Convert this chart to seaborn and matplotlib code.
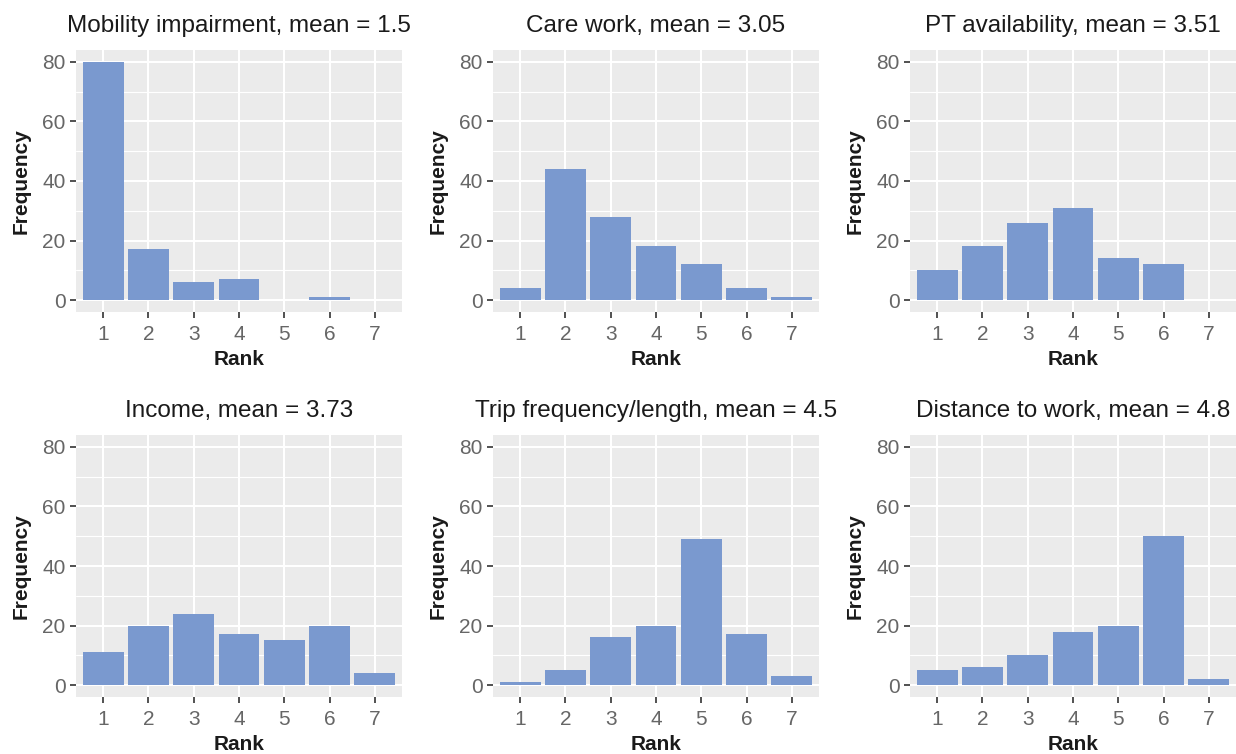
import matplotlib
matplotlib.use("Agg")
import matplotlib.pyplot as plt
import seaborn as sns
import pandas as pd
import numpy as np
from matplotlib.ticker import MultipleLocator

ranks = [1, 2, 3, 4, 5, 6, 7]
titles = ["Mobility impairment, mean = 1.5", "Care work, mean = 3.05",
          "PT availability, mean = 3.51", "Income, mean = 3.73",
          "Trip frequency/length, mean = 4.5", "Distance to work, mean = 4.8"]
mobility = [80, 17, 6, 7, 0, 1, 0]
care_work = [4, 44, 28, 18, 12, 4, 1]
pt_avail = [10, 18, 26, 31, 14, 12, 0]
income = [11, 20, 24, 17, 15, 20, 4]
trip_freq = [1, 5, 16, 20, 49, 17, 3]
distance = [5, 6, 10, 18, 20, 50, 2]
series = [mobility, care_work, pt_avail, income, trip_freq, distance]
y_ticks = [0, 20, 40, 60, 80]

sns.set_theme(style="darkgrid")
plt.rcParams['font.family'] = ['Liberation Sans', 'DejaVu Sans']

W, H = 1236, 754
fig = plt.figure(figsize=(W / 100, H / 100), dpi=100)

lefts = [76, 493, 910]
width = 326
tops = [50, 435]
height = 262

bar_color = "#7A99CF"
for i, (vals, title) in enumerate(zip(series, titles)):
    r, c = divmod(i, 3)
    ax = fig.add_axes([lefts[c] / W, 1 - (tops[r] + height) / H, width / W, height / H])
    df = pd.DataFrame({"Rank": [str(x) for x in ranks], "Frequency": vals})
    sns.barplot(data=df, x="Rank", y="Frequency", ax=ax, color=bar_color,
                saturation=1, width=0.9, linewidth=0, zorder=3)
    ax.set_facecolor("#EBEBEB")
    ax.set_xlim(-0.6, 6.6)
    ax.set_ylim(-4, 84)
    ax.set_yticks(y_ticks)
    ax.yaxis.set_minor_locator(MultipleLocator(10))
    ax.grid(which="major", color="white", linewidth=1.5, zorder=0)
    ax.grid(which="minor", axis="y", color="white", linewidth=0.8, zorder=0)
    ax.set_axisbelow(True)
    for s in ax.spines.values():
        s.set_visible(False)
    ax.tick_params(axis="both", which="major", length=4.5, width=1.2, color="#333333",
                   labelsize=15, labelcolor="#666666", bottom=True, left=True)
    ax.tick_params(axis="x", which="major", pad=5)
    ax.tick_params(axis="y", which="major", pad=3)
    ax.tick_params(axis="both", which="minor", length=0)
    ax.set_xlabel("Rank", fontsize=15, fontweight="bold", color="#1A1A1A", labelpad=4)
    ax.set_ylabel("Frequency", fontsize=15, fontweight="bold", color="#1A1A1A", labelpad=8)
    ax.set_title(title, fontsize=17.5, color="#1A1A1A", pad=13)

fig.savefig("out.png", dpi=100)
